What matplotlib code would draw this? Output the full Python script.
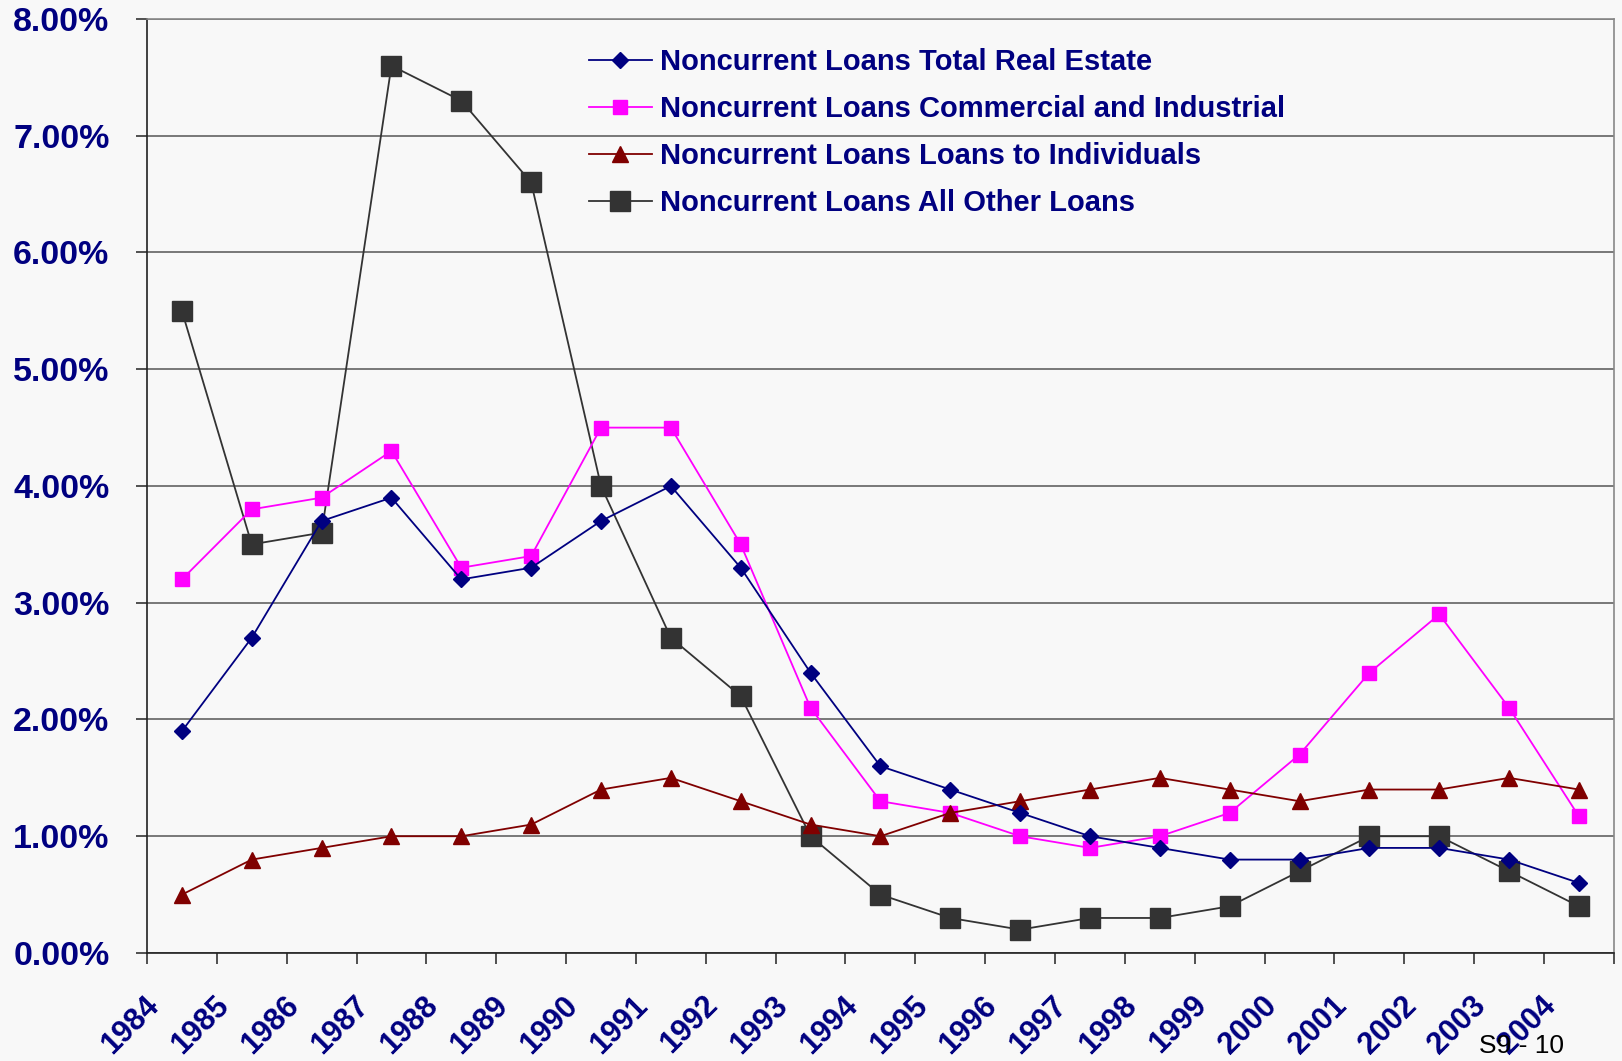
import numpy as np
import matplotlib
matplotlib.use("Agg")
import matplotlib.pyplot as plt
from matplotlib.ticker import FuncFormatter
import matplotlib.transforms as mtransforms

plt.rcParams['font.family'] = ['Liberation Sans', 'DejaVu Sans']

years = [str(y) for y in range(1984, 2005)]

# noncurrent loan rates, percent
real_estate = [1.9, 2.7, 3.7, 3.9, 3.2, 3.3, 3.7, 4.0, 3.3, 2.4, 1.6,
               1.4, 1.2, 1.0, 0.9, 0.8, 0.8, 0.9, 0.9, 0.8, 0.6]
comm_ind = [3.2, 3.8, 3.9, 4.3, 3.3, 3.4, 4.5, 4.5, 3.5, 2.1, 1.3,
            1.2, 1.0, 0.9, 1.0, 1.2, 1.7, 2.4, 2.9, 2.1, 1.17]
individuals = [0.5, 0.8, 0.9, 1.0, 1.0, 1.1, 1.4, 1.5, 1.3, 1.1, 1.0,
               1.2, 1.3, 1.4, 1.5, 1.4, 1.3, 1.4, 1.4, 1.5, 1.4]
all_other = [5.5, 3.5, 3.6, 7.6, 7.3, 6.6, 4.0, 2.7, 2.2, 1.0, 0.5,
             0.3, 0.2, 0.3, 0.3, 0.4, 0.7, 1.0, 1.0, 0.7, 0.4]

labels = ["Noncurrent Loans Total Real Estate",
          "Noncurrent Loans Commercial and Industrial",
          "Noncurrent Loans Loans to Individuals",
          "Noncurrent Loans All Other Loans"]

navy = '#000080'
bg = '#F8F8F8'

fig = plt.figure(figsize=(16.22, 10.61), dpi=100, facecolor=bg)
ax = fig.add_axes([0.0906, 0.1018, 0.9044, 0.8803], facecolor=bg)

x = np.arange(len(years))
ax.plot(x, real_estate, color=navy, lw=1.3, marker='D', ms=8.5,
        mfc=navy, mec=navy, label=labels[0], zorder=4)
ax.plot(x, comm_ind, color='#FF00FF', lw=1.3, marker='s', ms=10,
        mfc='#FF00FF', mec='#FF00FF', label=labels[1], zorder=3)
ax.plot(x, individuals, color='#800000', lw=1.3, marker='^', ms=11,
        mfc='#800000', mec='#800000', label=labels[2], zorder=3)
ax.plot(x, all_other, color='#333333', lw=1.3, marker='s', ms=15,
        mfc='#333333', mec='#333333', label=labels[3], zorder=2)

ax.set_xlim(-0.5, len(years) - 0.5)
ax.set_ylim(0, 8)
ax.set_yticks(np.arange(0, 9, 1))
ax.yaxis.set_major_formatter(FuncFormatter(lambda v, p: "%.2f%%" % v))
ax.grid(axis='y', color='#555555', lw=1.1)
ax.set_axisbelow(True)

ax.tick_params(axis='both', direction='out', length=8, width=1.1,
               colors='#222222', labelcolor=navy)
ax.tick_params(axis='y', labelsize=24.5, pad=19)
ax.tick_params(axis='x', labelsize=22, pad=2)

bounds = np.arange(len(years) + 1) - 0.5
ax.set_xticks(bounds)
ax.set_xticklabels(years + [''], rotation=45, ha='right', va='top',
                   rotation_mode='anchor', fontweight='bold')
off = mtransforms.ScaledTranslation(-0.03, -0.235, fig.dpi_scale_trans)
for t in ax.get_xticklabels():
    t.set_transform(t.get_transform() + off)
for t in ax.get_yticklabels():
    t.set_fontweight('bold')

for s in ['left', 'bottom']:
    ax.spines[s].set_color('#222222')
    ax.spines[s].set_linewidth(1.2)
for s in ['top', 'right']:
    ax.spines[s].set_color('#888888')
    ax.spines[s].set_linewidth(1.2)

leg = ax.legend(loc='upper left', bbox_to_anchor=(0.363, 0.955),
                bbox_transform=fig.transFigure, frameon=False,
                fontsize=21, handlelength=2.17, handletextpad=0.27,
                labelspacing=0.655, borderpad=0, borderaxespad=0)
for t in leg.get_texts():
    t.set_color(navy)
    t.set_fontweight('bold')

fig.text(0.9642, 0.0075, "S9 - 10", fontsize=19, color='black',
         ha='right', va='baseline')

fig.savefig("out.png", dpi=100, facecolor=bg)
